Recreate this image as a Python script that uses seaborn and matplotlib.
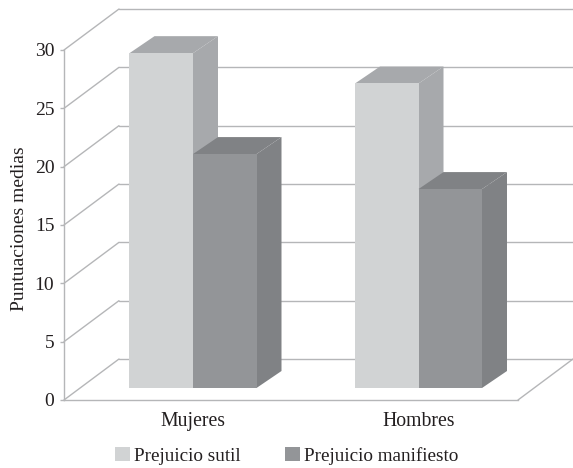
import matplotlib
matplotlib.use('Agg')
import matplotlib.pyplot as plt
from matplotlib.patches import Polygon
import seaborn as sns
import pandas as pd

sexo = ['Mujeres', 'Mujeres', 'Hombres', 'Hombres']
prejuicio = ['Prejuicio sutil', 'Prejuicio manifiesto', 'Prejuicio sutil', 'Prejuicio manifiesto']
puntuaciones = [28.7, 20.05, 26.1, 17.05]
y_ticks = [0, 5, 10, 15, 20, 25, 30]

colores = ['#d1d3d4', '#939598']
colores_lado = ['#a7a9ac', '#808285']
gris_linea = '#b5b6b8'
negro = '#231f20'

# medidas del falso 3D, en unidades de datos
px_x = 225.5
px_y = 350 / 30
pared_dx, pared_dy = 55 / px_x, 41 / px_y
barra_dx, barra_dy = 25 / px_x, 17 / px_y
base_barra = 12 / px_y
x_min = -129 / px_x
x_front = x_min + 454 / px_x
x_max = x_front + pared_dx

sns.set_style('white')
plt.rcParams['font.family'] = ['Liberation Serif', 'DejaVu Serif']

df = pd.DataFrame({'sexo': sexo, 'prejuicio': prejuicio, 'puntuacion': puntuaciones})

fig = plt.figure(figsize=(5.73, 4.68), dpi=100)
ax = fig.add_axes([64 / 573, 68 / 468, 509 / 573, 391 / 468])
sns.barplot(data=df, x='sexo', y='puntuacion', hue='prejuicio', palette=colores,
            saturation=1, width=127 / px_x, gap=0, errorbar=None,
            linewidth=0, ax=ax)

ax.set_xlim(x_min, x_max)
ax.set_ylim(0, pared_dy + 30)

# paredes y suelo
for v in y_ticks:
    ax.plot([x_min, x_min + pared_dx], [v, v + pared_dy], color=gris_linea, lw=1.0, zorder=1, clip_on=False)
    ax.plot([x_min + pared_dx, x_max], [v + pared_dy, v + pared_dy], color=gris_linea, lw=1.0, zorder=1, clip_on=False)
ax.plot([x_front, x_max], [0, pared_dy], color=gris_linea, lw=1.0, zorder=1)

# caras superior y lateral de cada barra
barras = [p for c in ax.containers for p in c]
for i, barra in enumerate(barras):
    barra.set_y(base_barra)  # las barras se apoyan un poco dentro del suelo
    x0, x1 = barra.get_x(), barra.get_x() + barra.get_width()
    abajo, arriba = barra.get_y(), barra.get_y() + barra.get_height()
    # vienen agrupadas por hue
    h = i // 2
    barra.set_zorder(3 + 2 * h)
    lado = [(x1, abajo), (x1 + barra_dx, abajo + barra_dy), (x1 + barra_dx, arriba + barra_dy), (x1, arriba)]
    tapa = [(x0, arriba), (x0 + barra_dx, arriba + barra_dy), (x1 + barra_dx, arriba + barra_dy), (x1, arriba)]
    ax.add_patch(Polygon(lado, color=colores_lado[h], lw=0, zorder=2 + 2 * h))
    ax.add_patch(Polygon(tapa, color=colores_lado[h], lw=0, zorder=2 + 2 * h))

sns.despine(ax=ax, top=True, right=True, bottom=False)
ax.spines['left'].set_bounds(0, 30)
ax.spines['left'].set_color(gris_linea)
ax.spines['left'].set_linewidth(1.0)
ax.spines['bottom'].set_bounds(x_min, x_front)
ax.spines['bottom'].set_color(gris_linea)
ax.spines['bottom'].set_linewidth(1.0)

ax.set_yticks(y_ticks)
ax.tick_params(axis='y', left=True, length=3, width=1, color=gris_linea, labelsize=14, labelcolor=negro, pad=4)
ax.tick_params(axis='x', bottom=False, labelsize=14.2, labelcolor=negro, pad=5)
ax.set_xlabel('')
ax.set_ylabel('')
fig.text(20 / 573, 1 - 229 / 468, 'Puntuaciones medias', rotation=90, ha='center', va='center',
         fontsize=14, color=negro)

handles, labels = ax.get_legend_handles_labels()
ax.legend(handles, labels, ncol=2, frameon=False, fontsize=13.8, labelcolor=negro,
          loc='center', bbox_to_anchor=(287 / 573, 1 - 456 / 468), bbox_transform=fig.transFigure,
          handlelength=0.75, handleheight=0.75, handletextpad=0.25, columnspacing=2.3,
          borderpad=0, borderaxespad=0)

fig.savefig('out.png', dpi=100)
